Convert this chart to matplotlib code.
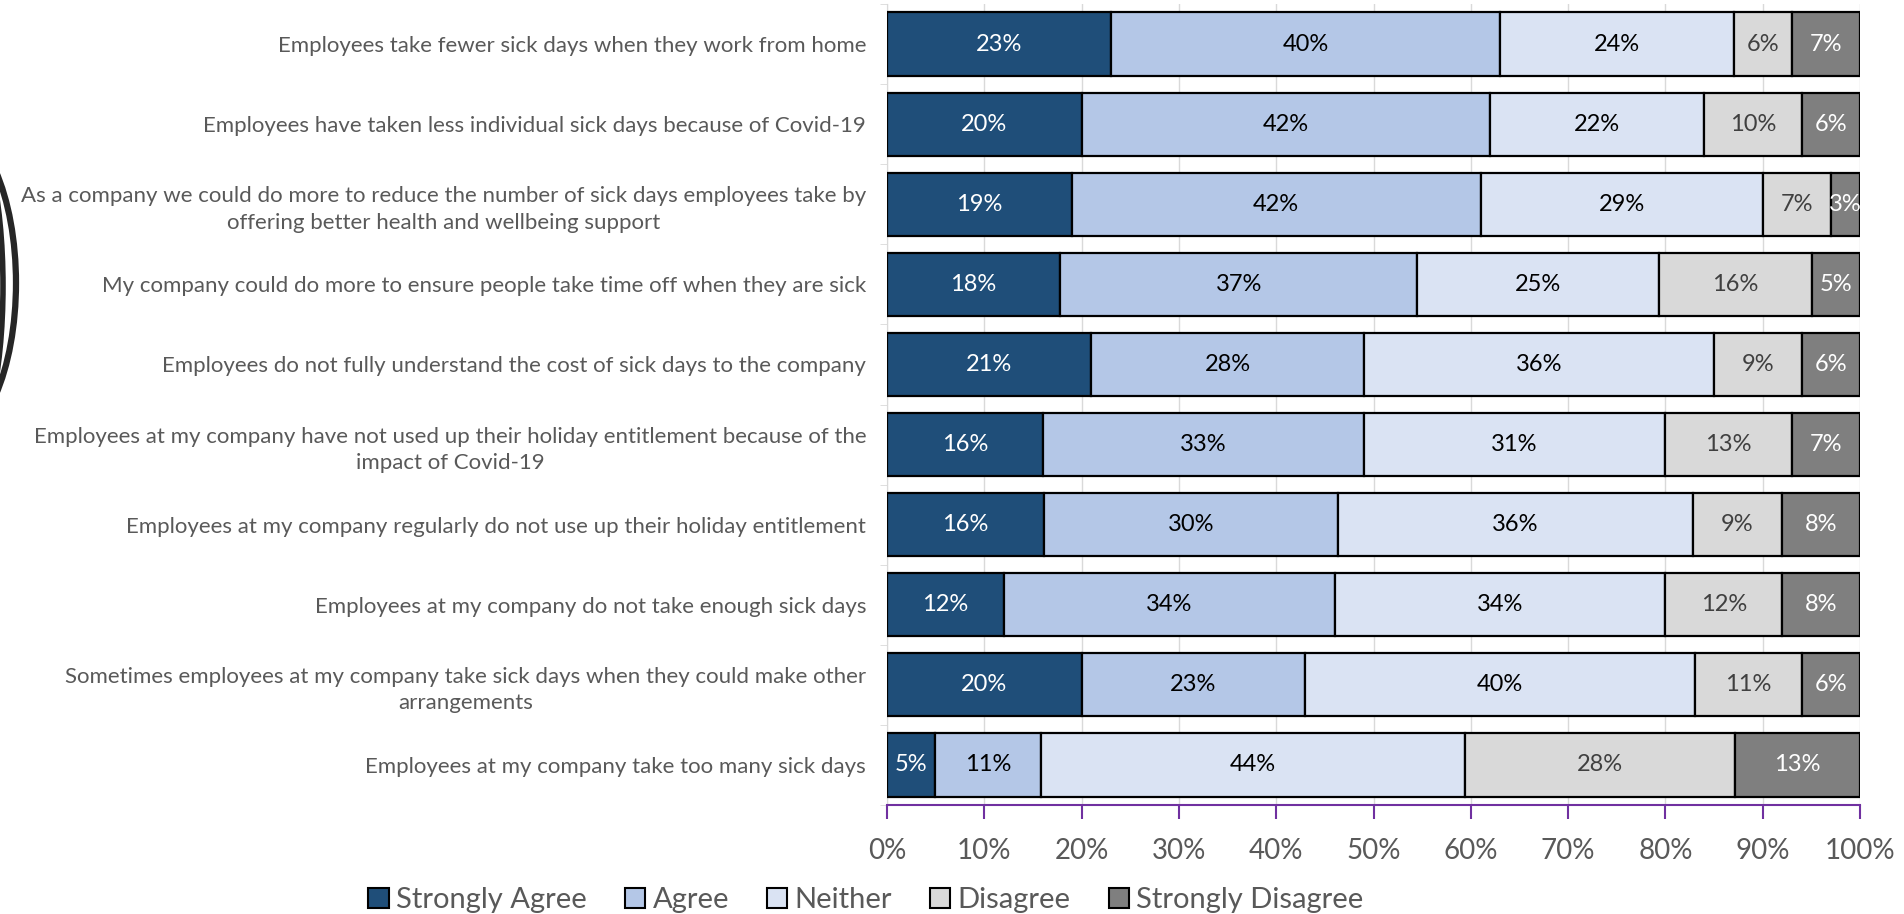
import matplotlib.pyplot as plt
import numpy as np
from matplotlib.patches import Ellipse, Patch

plt.rcParams['font.family'] = ['Lato', 'DejaVu Sans']

statements = [
    'Employees take fewer sick days when they work from home',
    'Employees have taken less individual sick days because of Covid-19',
    'As a company we could do more to reduce the number of sick days employees take by\noffering better health and wellbeing support',
    'My company could do more to ensure people take time off when they are sick',
    'Employees do not fully understand the cost of sick days to the company',
    'Employees at my company have not used up their holiday entitlement because of the\nimpact of Covid-19',
    'Employees at my company regularly do not use up their holiday entitlement',
    'Employees at my company do not take enough sick days',
    'Sometimes employees at my company take sick days when they could make other\narrangements',
    'Employees at my company take too many sick days',
]

responses = ['Strongly Agree', 'Agree', 'Neither', 'Disagree', 'Strongly Disagree']

strongly_agree = [23, 20, 19, 17.8, 21, 16, 16.1, 12, 20, 4.9]
agree = [40, 42, 42, 36.7, 28, 33, 30.3, 34, 23, 10.9]
neither = [24, 22, 29, 24.8, 36, 31, 36.4, 34, 40, 43.6]
disagree = [6, 10, 7, 15.8, 9, 13, 9.2, 12, 11, 27.8]
strongly_disagree = [7, 6, 3, 4.9, 6, 7, 8.0, 8, 6, 12.8]

series = [strongly_agree, agree, neither, disagree, strongly_disagree]
colors = ['#1F4E79', '#B4C7E7', '#DAE3F3', '#D9D9D9', '#7F7F7F']
text_colors = ['white', 'black', 'black', '#404040', 'white']

W, H = 1904, 914
fig = plt.figure(figsize=(W / 100, H / 100), dpi=100)

# decorative ring cut off at the left edge
deco = fig.add_axes([0, 0, 1, 1], zorder=-1)
deco.set_xlim(0, W)
deco.set_ylim(H, 0)
deco.axis('off')
deco.add_patch(Ellipse((-54, 283), 140, 318, fill=False, ec='#262626', lw=4.5))
deco.add_patch(Ellipse((-37, 286), 80, 332, fill=False, ec='#262626', lw=4.0))

ax = fig.add_axes([887 / W, 1 - 805 / H, (1860 - 887) / W, (805 - 4) / H])

y = np.arange(len(statements))
left = np.zeros(len(statements))
for vals, name, c, tc in zip(series, responses, colors, text_colors):
    vals = np.array(vals, dtype=float)
    bars = ax.barh(y, vals, left=left, height=0.79, color=c, edgecolor='black',
                   linewidth=1.6, label=name, zorder=3)
    for b, v in zip(bars, vals):
        ax.text(b.get_x() + b.get_width() / 2, b.get_y() + b.get_height() / 2,
                f'{v:.0f}%', ha='center', va='center', color=tc, fontsize=17, zorder=4)
    left += vals

ax.set_xlim(0, 100)
ax.set_ylim(len(statements) - 0.5, -0.5)
ax.set_xticks(np.arange(0, 101, 10))
ax.set_xticklabels([f'{t}%' for t in range(0, 101, 10)])
ax.set_yticks(y)
ax.set_yticklabels(statements, fontsize=16, color='#595959', linespacing=1.4,
                   multialignment='center')
ax.set_yticks(np.arange(-0.5, len(statements)), minor=True)
ax.tick_params(axis='y', which='major', length=0, pad=15)
ax.tick_params(axis='y', which='minor', length=5, color='#D9D9D9')
ax.tick_params(axis='x', length=10, width=1.5, color='#7030A0', labelsize=20,
               labelcolor='#595959', pad=14)

ax.grid(axis='x', color='#D9D9D9', linewidth=1, zorder=0)
for s in ['top', 'right']:
    ax.spines[s].set_visible(False)
ax.spines['left'].set_color('#D9D9D9')
ax.spines['bottom'].set_color('#7030A0')
ax.spines['bottom'].set_linewidth(1.5)

handles = [Patch(facecolor=c, edgecolor='black', linewidth=1.5) for c in colors]
fig.legend(handles, responses, loc='center', bbox_to_anchor=(866 / W, 1 - 900 / H),
           ncol=5, frameon=False, fontsize=21, labelcolor='#595959',
           handlelength=0.7, handleheight=0.7, handletextpad=0.25, columnspacing=1.3)

fig.savefig('out.png', dpi=100)
